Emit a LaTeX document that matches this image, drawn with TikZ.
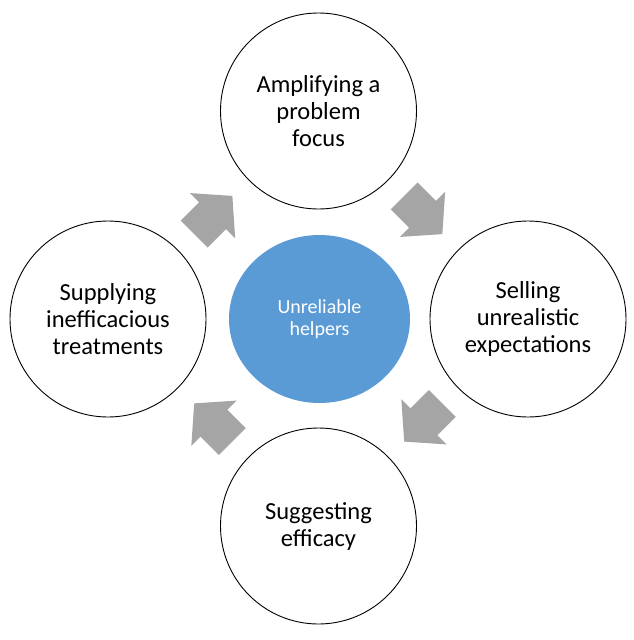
\documentclass[tikz,border=0pt]{standalone}
\usepackage{fontspec}
\setmainfont{Carlito}
\usetikzlibrary{shapes.geometric,calc}
\definecolor{centreblue}{HTML}{5B9BD5}
\definecolor{arrowgray}{HTML}{A5A5A5}
\tikzset{
  stagecircle/.style={circle,draw=black,line width=0.9pt,fill=white,minimum size=196pt,inner sep=0pt,align=center,
    font=\fontsize{24.5}{27}\selectfont},
  hubellipse/.style={ellipse,fill=centreblue,draw=none,minimum width=181pt,minimum height=168pt,inner sep=0pt,align=center,
    text=white,font=\fontsize{20}{22.5}\selectfont},
  blockarr/.pic={\fill[arrowgray] (-27,19) -- (-1,19) -- (-1,32) -- (27,0) -- (-1,-32) -- (-1,-19) -- (-27,-19) -- cycle;}
}
\begin{document}
\begin{tikzpicture}[x=1pt,y=-1pt]
\useasboundingbox (0,0) rectangle (633,640);
\fill[white] (0,0) rectangle (633,640);
\node[stagecircle] (top) at (318.5,111) {Amplifying a\\problem\\focus};
\node[stagecircle] (right) at (528,319) {Selling\\unrealistic\\expectations};
\node[stagecircle] (bottom) at (318.5,526) {Suggesting\\efficacy};
\node[stagecircle] (left) at (108,319) {Supplying\\inefficacious\\treatments};
\node[hubellipse] (hub) at (319.5,319) {Unreliable\\helpers};
\pic[rotate=45] at ($(left)!0.5!(top)$) {blockarr};
\pic[rotate=-45] at ($(top)!0.5!(right)$) {blockarr};
\pic[rotate=-135] at ($(right)!0.5!(bottom)$) {blockarr};
\pic[rotate=135] at ($(bottom)!0.5!(left)$) {blockarr};
\end{tikzpicture}
\end{document}
